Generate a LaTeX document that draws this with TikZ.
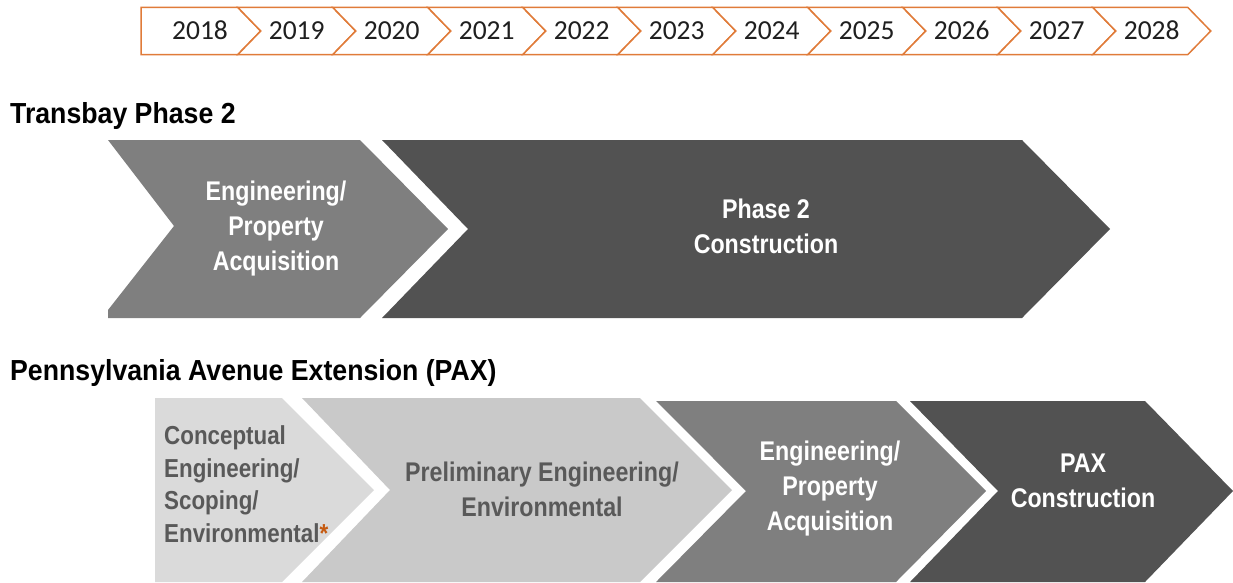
\documentclass[tikz,border=0pt]{standalone}
\usepackage{fontspec}
\setmainfont{Liberation Sans}
\newfontfamily\yearfont{Carlito}
\newfontfamily\condfont[FakeStretch=0.86]{Liberation Sans}
\newfontfamily\headfont[FakeStretch=0.92]{Liberation Sans}
\definecolor{tlorange}{HTML}{E07B39}
\definecolor{grayA}{HTML}{DADADA}
\definecolor{grayB}{HTML}{C9C9C9}
\definecolor{grayC}{HTML}{7F7F7F}
\definecolor{grayD}{HTML}{525252}
\definecolor{textgray}{HTML}{595959}
\definecolor{starorange}{HTML}{C55A11}
\begin{document}
\begin{tikzpicture}[x=1pt,y=-1pt,
  tlseg/.style={draw=tlorange,line width=1.5pt,fill=white,line join=miter},
  yearlbl/.style={font=\yearfont\fontsize{27.5}{30}\selectfont,text=black!88,inner sep=0pt,anchor=base},
  heading/.style={font=\headfont\bfseries\fontsize{29}{34}\selectfont,anchor=base west,inner sep=0pt,text=black},
  lbl/.style={font=\condfont\bfseries\fontsize{27}{35}\selectfont,align=center,inner sep=0pt,text=white},
  lbldark/.style={lbl,text=textgray},
  paxlbl/.style={font=\condfont\bfseries\fontsize{26}{32.5}\selectfont,align=left,inner sep=0pt,text=textgray,anchor=west}
]
\useasboundingbox (0,0) rectangle (1233,582);

% ---- year ribbon ----
\draw[tlseg] (141,7.3) -- (237.7,7.3) -- (260.7,31) -- (237.7,54.7) -- (141,54.7) -- cycle;
\node[yearlbl] (yr0) at (200,39.5) {2018};
\foreach \yr [count=\k] in {2019,2020,...,2028} {
  \pgfmathsetmacro{\a}{142.7+95*\k}
  \draw[tlseg] (\a,7.3) -- (\a+95,7.3) -- (\a+118,31) -- (\a+95,54.7) -- (\a,54.7) -- (\a+23,31) -- cycle;
  \node[yearlbl] (yr\k) at (\a+59,39.5) {\yr};
}

% ---- Transbay Phase 2 ----
\node[heading] (tbhead) at (10,123) {Transbay Phase 2};
\fill[grayC] (108,140) -- (360,140) -- (448,229) -- (360,318) -- (108,318) -- (108,310) -- (174,226) -- cycle;
\fill[grayD] (382,140) -- (1022,140) -- (1110,229) -- (1022,318) -- (382,318) -- (468,229) -- cycle;
\node[lbl] (tbeng) at (276,229) {Engineering/\\Property\\Acquisition};
\node[lbl] (tbcon) at (766,226.5) {Phase 2\\Construction};

% ---- Pennsylvania Avenue Extension ----
\node[heading] (paxhead) at (10,380) {Pennsylvania Avenue Extension (PAX)};
\fill[grayA] (155,398) -- (282,398) -- (374,490) -- (282,582) -- (155,582) -- cycle;
\fill[grayB] (302,398) -- (640,398) -- (732,490) -- (640,582) -- (302,582) -- (390,490) -- cycle;
\fill[grayC] (656,401) -- (896,401) -- (986,491) -- (896,582) -- (656,582) -- (746,491) -- cycle;
\fill[grayD] (910,401) -- (1145,401) -- (1233,491) -- (1145,582) -- (910,582) -- (998,491) -- cycle;
\node[paxlbl] (paxcon) at (164,484) {Conceptual\\Engineering/\\Scoping/\\Environmental\textcolor{starorange}{*}};
\node[lbldark] (paxpre) at (542,489.5) {Preliminary Engineering/\\Environmental};
\node[lbl] (paxeng) at (830,489) {Engineering/\\Property\\Acquisition};
\node[lbl] (paxbuild) at (1083,480.5) {PAX\\Construction};
\end{tikzpicture}
\end{document}
